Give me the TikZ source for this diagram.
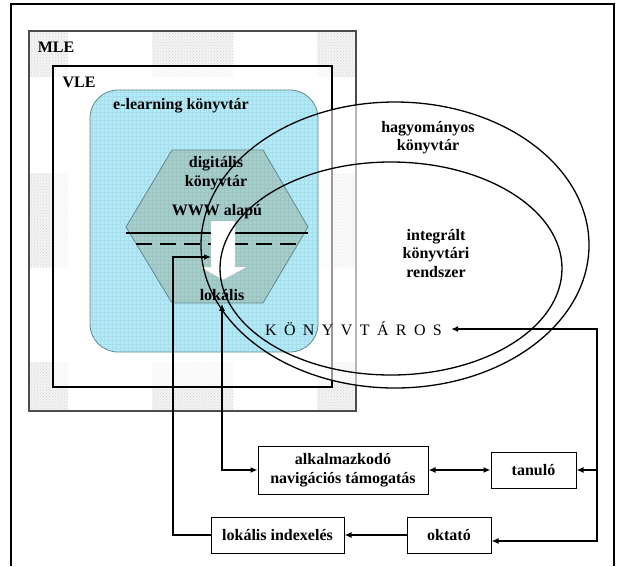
\documentclass[tikz,border=0pt]{standalone}
\usepackage{fontspec}
\setmainfont{Liberation Serif}
\usetikzlibrary{positioning,arrows.meta,patterns}
\definecolor{elearnblue}{RGB}{178,234,248}
\definecolor{digitgray}{RGB}{166,206,204}
\definecolor{edgeteal}{RGB}{100,140,145}
\newcommand{\kgap}{\hspace{7.4pt}}

\begin{document}
\begin{tikzpicture}[x=1pt,y=-1pt,
	every node/.style={font=\fontsize{16}{18.5}\selectfont\bfseries,align=center,inner sep=3pt},
	patch/.style={fill=gray!9},
	ibox/.style={draw,line width=1pt,minimum height=36pt},
	conn/.style={line width=1.7pt,-{Latex[length=7pt,width=6pt]}},
	dconn/.style={line width=1.7pt,{Latex[length=7pt,width=6pt]}-{Latex[length=7pt,width=6pt]}}]

\useasboundingbox (0,0) rectangle (618,566);
\draw[line width=1.2pt] (11,566) -- (11,4) -- (614,4) -- (614,566);

% MLE tiles
\foreach \x/\y/\w/\h in {29/31/39/46, 152/31/81/46, 317/31/39/46, 29/173/39/94, 317/173/39/94, 29/362/39/49, 152/362/81/49, 317/362/39/49}
{
	\fill[patch] (\x,\y) rectangle ++(\w,\h);
	\fill[pattern=crosshatch dots,pattern color=gray!35] (\x,\y) rectangle ++(\w,\h);
}
\draw[gray!60!black,line width=1.3pt] (29,31) rectangle (356,411);
\draw[fill=white,fill opacity=0.7,line width=1.5pt] (53,66) rectangle (332,387);
\fill[white,fill opacity=0.6] (395,245) ellipse [x radius=194,y radius=143];

% e-learning and digital library
\draw[fill=elearnblue,draw=edgeteal,line width=0.8pt,rounded corners=28pt] (90,90) rectangle (318,352);
\draw[fill=digitgray,draw=edgeteal,line width=0.8pt] (172,150) -- (263,150) -- (308,227) -- (263,303) -- (172,303) -- (126,227) -- cycle;
\begin{scope}
	\clip[rounded corners=28pt] (90,90) rectangle (318,352);
	\draw[black,opacity=0.05,line width=0.4pt,step=4pt] (90,90) grid (318,352);
\end{scope}
\draw[line width=2.6pt] (126,233) -- (308,233);
\draw[line width=2.6pt,dash pattern=on 16pt off 8pt] (136,244) -- (298,244);
\draw[fill=white,draw=gray!50] (211,221) -- (235,221) -- (235,267) -- (247,267) -- (223,280) -- (200,267) -- (211,267) -- cycle;
\coordinate (wwwin) at (211,257);

% libraries
\draw[line width=1.3pt] (395,245) ellipse [x radius=194,y radius=143];
\draw[line width=1.3pt] (391,268.5) ellipse [x radius=171,y radius=106.5];

\node (mle) at (56,47) {MLE};
\node (vle) at (79,82) {VLE};
\node (elearn) at (181,106) {e-learning könyvtár};
\node (digit) at (216,173) {digitális\\könyvtár};
\node (www) at (217,212) {WWW alapú};
\node (lokalis) at (222,295) {lokális};
\node (hagy) at (428,137.5) {hagyományos\\könyvtár};
\node (integr) at (436,253.5) {integrált\\könyvtári\\rendszer};
\node[font=\fontsize{16}{18.5}\selectfont,inner xsep=9pt] (konyvtaros) at (353.5,329) {K\kgap Ö\kgap N\kgap Y\kgap V\kgap T\kgap Á\kgap R\kgap O\kgap S};

% boxes
\node[ibox,minimum width=170pt,minimum height=48pt] (nav) at (343,470) {alkalmazkodó\\navigációs támogatás};
\node[ibox,minimum width=85pt,right=62pt of nav] (tanulo) {tanuló};
\node[ibox,minimum width=133pt] (lokindex) at (277.5,535) {lokális indexelés};
\node[ibox,minimum width=84pt,right=62pt of lokindex] (oktato) {oktató};

% connectors
\coordinate (busend) at (597,541);
\draw[dconn] (konyvtaros.east) -| (busend) -- (busend -| oktato.east);
\draw[conn] (tanulo.east -| busend) -- (tanulo.east);
\draw[dconn] (nav) -- (tanulo);
\draw[conn] (oktato) -- (lokindex);
\draw[conn] (lokindex.west) -- ++(-37.5,0) |- (wwwin);
\draw[dconn] (nav.west) -| (lokalis.south);
\end{tikzpicture}
\end{document}
